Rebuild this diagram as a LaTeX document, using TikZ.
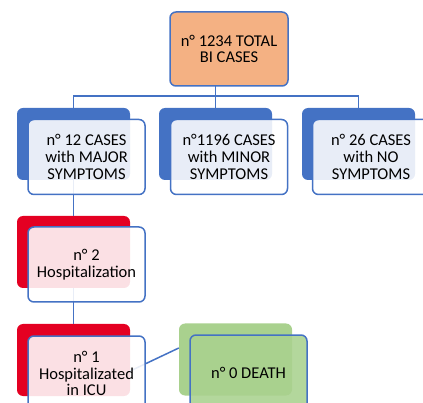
\documentclass[tikz,border=0pt]{standalone}
\usepackage{fontspec}
\setmainfont{Carlito}
\usetikzlibrary{positioning,calc}
\usepackage{xcolor}
\definecolor{office}{RGB}{68,114,196}
\definecolor{alarm}{RGB}{228,0,34}
\definecolor{calm}{RGB}{169,209,142}
\definecolor{peach}{RGB}{244,177,131}

\tikzset{
  back/.style={fill=#1, rounded corners=6pt, minimum width=113pt,
    minimum height=72pt, inner sep=0pt},
  front/.style={draw=office, line width=1.5pt, fill=#1, fill opacity=0.88,
    text opacity=1, rounded corners=6pt, minimum width=117pt,
    minimum height=75pt, inner sep=2pt, align=center,
    font=\fontsize{16.5}{16.6}\selectfont},
  front/.default=white,
  link/.style={draw=office, line width=1.5pt}
}

\begin{document}
\begin{tikzpicture}[x=1pt, y=-1pt]
\clip (0,0) rectangle (423,403);
\useasboundingbox (0,0) rectangle (423,403);

% back shapes
\node[back=office] (majorback) at (73.5,144) {};
\node[back=office] (minorback) at (215.5,144) {};
\node[back=office] (noneback)  at (358.5,144) {};
\node[back=alarm]  (hospback)  at (73.5,252) {};
\node[back=alarm]  (icuback)   at (73.5,360) {};
\node[back=calm]   (deathback) at (235.5,359.5) {};

% connectors
\coordinate (bus) at (215.5,96);
\draw[link] (215.5,86) -- (minorback.north);
\draw[link] (majorback.north) |- (bus) -| (noneback.north);
\draw[link] (majorback.south) -- (hospback.north);
\draw[link] (hospback.south) -- (icuback.north);
\draw[link] ([yshift=-11pt]icuback.east) -- ([yshift=11.5pt]deathback.west);

% front shapes
\node[front=peach, fill opacity=1, minimum width=118pt, minimum height=74pt]
  (total) at (229,49) {n° 1234 TOTAL\\BI CASES};
\node[front] (major) at (86.5,157) {n° 12 CASES\\with MAJOR\\SYMPTOMS};
\node[front] (minor) at (229,157) {n°1196 CASES\\with MINOR\\SYMPTOMS};
\node[front] (none)  at (371,157) {n° 26 CASES\\with NO\\SYMPTOMS};
\node[front] (hosp)  at (86.5,264.5) {n° 2\\Hospitalization};
\node[front] (icu)   at (86.5,373.5) {n° 1\\Hospitalizated\\in ICU};
\node[front=calm] (death) at (248.5,372.5) {n° 0 DEATH};
\end{tikzpicture}
\end{document}
